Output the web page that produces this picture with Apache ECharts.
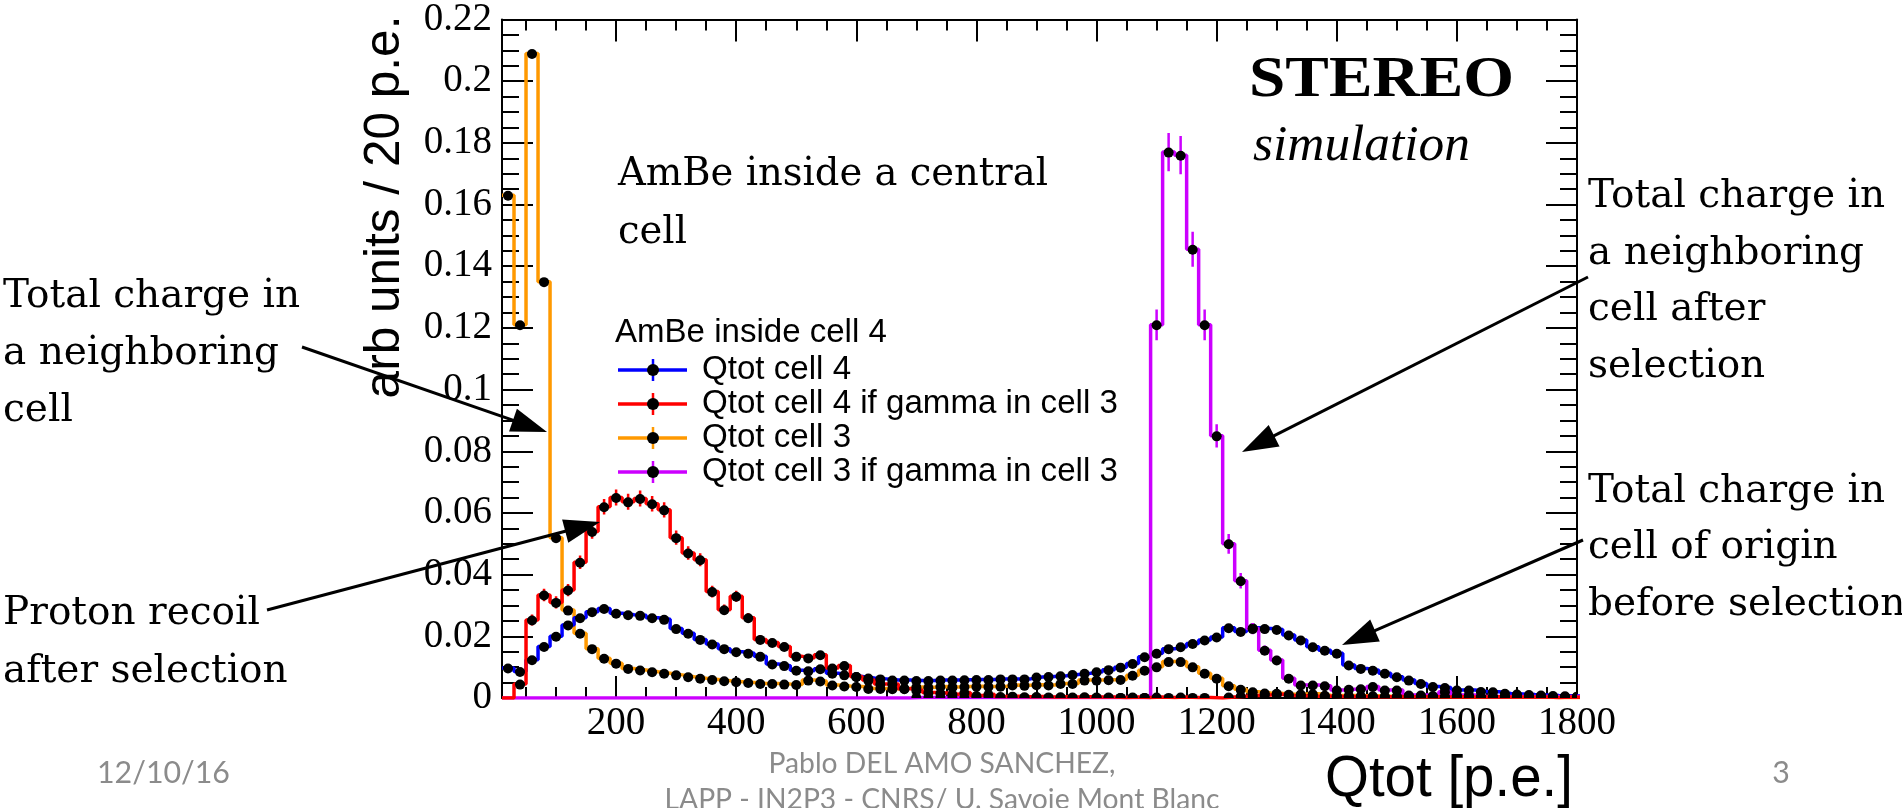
<!DOCTYPE html>
<html><head><meta charset="utf-8">
<script src="https://cdn.jsdelivr.net/npm/echarts@6/dist/echarts.min.js"></script>
<style>html,body{margin:0;padding:0;background:#fff}#c{width:1902px;height:808px}</style>
</head><body><div id="c"></div>
<script>
// ---------------- data ----------------
const binWidth = 20;
const xCenters = [20,40,60,80,100,120,140,160,180,200,220,240,260,280,300,320,340,360,380,400,
420,440,460,480,500,520,540,560,580,600,620,640,660,680,700,720,740,760,780,800,
820,840,860,880,900,920,940,960,980,1000,1020,1040,1060,1080,1100,1120,1140,1160,1180,1200,
1220,1240,1260,1280,1300,1320,1340,1360,1380,1400,1420,1440,1460,1480,1500,1520,1540,1560,1580,1600,
1620,1640,1660,1680,1700,1720,1740,1760,1780,1800];

const cell4 = [0.0097,0.0086,0.0124,0.0167,0.020,0.0237,0.026,0.028,0.029,0.0275,
0.027,0.0268,0.026,0.0255,0.0225,0.021,0.019,0.0175,0.016,0.015,
0.0145,0.0135,0.011,0.0105,0.009,0.0088,0.0095,0.008,0.0075,0.007,
0.0065,0.0062,0.0058,0.0058,0.0057,0.0057,0.0058,0.0058,0.0059,0.006,
0.006,0.0062,0.0062,0.0062,0.0068,0.007,0.0072,0.0076,0.008,0.0085,
0.0092,0.010,0.0112,0.0134,0.0145,0.016,0.0166,0.0177,0.0188,0.0198,
0.0228,0.0216,0.0228,0.0225,0.0222,0.0204,0.0188,0.0166,0.0155,0.0145,
0.0107,0.0096,0.009,0.008,0.0069,0.0058,0.0047,0.0037,0.0034,0.0026,
0.0026,0.0021,0.002,0.0015,0.0013,0.0011,0.001,0.0008,0.0007,0.0006];

const cell4Gamma = [0,0.0045,0.0253,0.0334,0.031,0.035,0.044,0.054,0.062,0.065,
0.0636,0.0647,0.063,0.061,0.052,0.047,0.0448,0.0345,0.0286,0.033,
0.026,0.019,0.018,0.0167,0.0135,0.013,0.014,0.0097,0.0105,0.007,
0.0058,0.0045,0.0045,0.003,0.0025,0.0018,0.0016,0.0012,0.0018,0.0008,
0.0012,0.0005,0.0006,0.0004,0.0005,0.0003,0.0004,0.0003,0.0004,0.0003,
0.0003,0.0002,0.0003,0.0002,0.0003,0.0002,0.0003,0.0002,0.0002,0,
0.0003,0.0006,0.0008,0.001,0.0012,0.0008,0.0007,0.0006,0.0006,0.0005,
0.0005,0.0005,0.0004,0.0004,0.0005,0.0004,0.0004,0.0004,0.0003,0.0004,
0.0003,0.0003,0.0004,0.0003,0.0003,0.0003,0.0003,0.0002,0.0003,0.0002];

const cell3 = [0.163,0.121,0.209,0.135,0.052,0.0285,0.021,0.016,0.0129,0.0113,
0.0096,0.0091,0.0085,0.008,0.0075,0.0069,0.0064,0.006,0.0056,0.0053,
0.005,0.0047,0.0047,0.0045,0.0044,0.0058,0.0055,0.0042,0.0039,0.0037,
0.0031,0.0031,0.003,0.0032,0.0036,0.0035,0.0037,0.0036,0.0037,0.0038,
0.0037,0.0038,0.0042,0.0041,0.0043,0.0042,0.0047,0.0047,0.0058,0.0058,
0.0059,0.006,0.0074,0.009,0.0101,0.0118,0.0118,0.0101,0.008,0.0064,
0.004,0.0028,0.002,0.0016,0.0015,0.0012,0.0013,0.0014,0.0009,0.0008,
0.0008,0.0007,0.0007,0.0006,0.0006,0.0006,0.0005,0.0005,0.0005,0.0005,
0.0004,0.0004,0.0004,0.0003,0.0003,0.0003,0.0003,0.0002,0.0002,0.0002];

const cell3Gamma = [0,0,0,0,0,0,0,0,0,0,
0,0,0,0,0,0,0,0,0,0,
0,0,0,0,0,0,0,0,0,0,
0,0,0,0,0.0002,0.0002,0.0002,0.0002,0.0002,0.0002,
0.0002,0.0002,0.0002,0.0002,0.0002,0.0002,0.0002,0.0002,0.0002,0.0002,
0.0002,0.0002,0.0002,0.0002,0.121,0.177,0.176,0.1455,0.121,0.085,
0.050,0.038,0.0225,0.0155,0.0123,0.0064,0.0042,0.0042,0.004,0.0026,
0.0028,0.003,0.0037,0.0026,0.0026,0.001,0.001,0.0008,0.002,0.001,
0.001,0.0005,0.0005,0.0005,0.0005,0.0005,0.0005,0.0005,0.0005,0.0005];

const cell4GammaErr = [0,0.001,0.0018,0.002,0.002,0.002,0.0022,0.0024,0.0025,0.0026,
0.0026,0.0026,0.0025,0.0025,0.0023,0.0022,0.0021,0.0019,0.0017,0.0018,
0.0016,0.0014,0.0013,0.0013,0.0012,0.0011,0.0012,0.001,0.001,0.0008];

const cell3GammaErr = [];
cell3GammaErr[54] = 0.005; cell3GammaErr[55] = 0.0062; cell3GammaErr[56] = 0.0062;
cell3GammaErr[57] = 0.0057; cell3GammaErr[58] = 0.005; cell3GammaErr[59] = 0.0038;
cell3GammaErr[60] = 0.0032; cell3GammaErr[61] = 0.0025; cell3GammaErr[62] = 0.0018;
cell3GammaErr[63] = 0.0015; cell3GammaErr[64] = 0.0014;

const seriesNames = ['Qtot cell 4','Qtot cell 4 if gamma in cell 3','Qtot cell 3','Qtot cell 3 if gamma in cell 3'];
const seriesColors = ['#0000ff','#ff0000','#ff9900','#cc00ff'];
const legendHeader = 'AmBe inside cell 4';

// ---------------- helpers ----------------
const mctx = document.createElement('canvas').getContext('2d');
function measure(text, family, size, weight, style) {
  mctx.font = (style||'normal') + ' ' + (weight||'normal') + ' ' + size + 'px "' + family + '"';
  return mctx.measureText(text).width;
}
function fitSize(text, family, width, weight, style) {
  return 100 * width / measure(text, family, 100, weight, style);
}
function txt(text, x, y, o) {
  return {type:'text', x:x, y:y, rotation:o.rot||0, scaleX:o.sx||1, z:100,
    style:{text:text, fontFamily:o.family, fontSize:o.size, fontWeight:o.weight||'normal',
      fontStyle:o.style||'normal', fill:o.color||'#000',
      align:o.align||'left', verticalAlign:'middle', textAlign:o.align||'left', textVerticalAlign:'middle'}};
}
function arrow(x1,y1,x2,y2){
  const dx=x2-x1, dy=y2-y1, L=Math.hypot(dx,dy), ux=dx/L, uy=dy/L, nx=-uy, ny=ux;
  const hl=36, hw=12, bx=x2-ux*hl, by=y2-uy*hl;
  return [
    {type:'line', z:100, shape:{x1:x1,y1:y1,x2:bx+ux*2,y2:by+uy*2}, style:{stroke:'#000', lineWidth:3}},
    {type:'polygon', z:100, shape:{points:[[x2,y2],[bx+nx*hw,by+ny*hw],[bx-nx*hw,by-ny*hw]]}, style:{fill:'#000'}}
  ];
}
function stepData(vals){
  const d = [];
  for (let i=0;i<vals.length;i++) d.push([xCenters[i]-binWidth/2, vals[i]]);
  d.push([xCenters[vals.length-1]+binWidth/2, vals[vals.length-1]]);
  return d;
}

const allVals = [cell4, cell4Gamma, cell3, cell3Gamma];
const allErr = [null, cell4GammaErr, null, cell3GammaErr];
const zOrder = [3, 5, 2, 4];

const series = [];
allVals.forEach((vals, s) => {
  series.push({type:'line', name:seriesNames[s], step:'end', data:stepData(vals), symbol:'none',
    lineStyle:{color:seriesColors[s], width:3.5}, itemStyle:{color:seriesColors[s]},
    z:zOrder[s], silent:true, animation:false, clip:true});
});
allVals.forEach((vals, s) => {
  const color = seriesColors[s];
  const err = allErr[s];
  const data = [];
  vals.forEach((v,i) => { if (v > 0) data.push([xCenters[i], v, err && err[i] ? err[i] : 0]); });
  series.push({type:'custom', data:data, z:6, silent:true, animation:false, clip:true,
    renderItem:function(params, api){
      const x = api.value(0), v = api.value(1), e = api.value(2);
      const c = api.coord([x, v]);
      const l = api.coord([x - binWidth/2, v]);
      const r = api.coord([x + binWidth/2, v]);
      const ch = [];
      if (e > 0) {
        const t = api.coord([x, v + e]), b = api.coord([x, v - e]);
        ch.push({type:'line', shape:{x1:c[0],y1:t[1],x2:c[0],y2:b[1]}, style:{stroke:color, lineWidth:2.5}});
      }
      ch.push({type:'line', shape:{x1:l[0]+1.5,y1:c[1],x2:r[0]-1.5,y2:c[1]}, style:{stroke:'#000', lineWidth:2.5}});
      ch.push({type:'circle', shape:{cx:c[0],cy:c[1]+0.5,r:5}, style:{fill:'#000'}});
      return {type:'group', children:ch};
    }});
});

// ---------------- graphic ----------------
const g = [];
const serif = 'DejaVu Serif', ser = 39;
[['Total charge in',297],['a neighboring',354],['cell',411],['Proton recoil',614],['after selection',672]]
  .forEach(a => g.push(txt(a[0], 3, a[1], {family:serif, size:ser})));
[['Total charge in',197],['a neighboring',254],['cell after',310],['selection',367],
 ['Total charge in',492],['cell of origin',548],['before selection',605]]
  .forEach(a => g.push(txt(a[0], 1588, a[1], {family:serif, size:ser})));
g.push(txt('AmBe inside a central', 618, 175, {family:serif, size:38.5}));
g.push(txt('cell', 618, 233, {family:serif, size:38.5}));

const stSize = 56;
g.push(txt('STEREO', 1249, 82, {family:'Liberation Serif', size:stSize, weight:'bold',
  sx: 265/measure('STEREO','Liberation Serif',stSize,'bold')}));
const simSize = 50;
g.push(txt('simulation', 1253, 147, {family:'Liberation Serif', size:simSize, style:'italic',
  sx: 217/measure('simulation','Liberation Serif',simSize,'normal','italic')}));

// legend
const lgSize = fitSize(seriesNames[1], 'Liberation Sans', 416);
g.push(txt(legendHeader, 615, 333, {family:'Liberation Sans', size:fitSize(legendHeader,'Liberation Sans',272)}));
seriesNames.forEach((n, i) => {
  const y = 370 + 34*i;
  g.push({type:'line', z:100, shape:{x1:618,y1:y,x2:687,y2:y}, style:{stroke:seriesColors[i], lineWidth:3.5}});
  g.push({type:'line', z:100, shape:{x1:653,y1:y-11,x2:653,y2:y+11}, style:{stroke:seriesColors[i], lineWidth:2.5}});
  g.push({type:'circle', z:101, shape:{cx:653,cy:y,r:6}, style:{fill:'#000'}});
  g.push(txt(n, 702, y, {family:'Liberation Sans', size:lgSize}));
});

// axis titles
const yt = 'arb units / 20 p.e.';
g.push(txt(yt, 385, 207, {family:'Liberation Sans', size:fitSize(yt,'Liberation Sans',383), align:'center', rot:Math.PI/2}));
const xt = 'Qtot [p.e.]';
g.push(txt(xt, 1325, 780, {family:'Liberation Sans', size:fitSize(xt,'Liberation Sans',248)}));

// footer
const gray = '#8b8b8b';
const f1 = 'Pablo DEL AMO SANCHEZ,', f2 = 'LAPP - IN2P3 - CNRS/ U. Savoie Mont Blanc';
const fs = fitSize(f2, 'Lato', 555);
g.push(txt(f1, 942, 764, {family:'Lato', size:fs, align:'center', color:gray}));
g.push(txt(f2, 942, 800, {family:'Lato', size:fs, align:'center', color:gray}));
const ds = fitSize('12/10/16', 'Lato', 133);
g.push(txt('12/10/16', 97, 773, {family:'Lato', size:ds, color:gray}));
g.push(txt('3', 1781, 773, {family:'Lato', size:ds, align:'center', color:gray}));

// arrows
[[302,347,547,432],[267,610,600,522],[1588,277,1242,452],[1583,540,1342,645]]
  .forEach(a => arrow(a[0],a[1],a[2],a[3]).forEach(e => g.push(e)));

// ---------------- axes ----------------
const black = {color:'#000', width:2};
function xAx(pos, major) {
  return {type:'value', min:10, max:1800, position:pos, splitNumber: major ? 9 : 36,
    axisLine:{show:major, onZero:false, lineStyle:black},
    axisTick:{show:true, inside:true, length: major ? 22 : 11, lineStyle:black},
    axisLabel:{show: major && pos==='bottom', showMinLabel:false, margin:6, color:'#000',
      fontFamily:'Liberation Serif', fontSize:39, formatter: v => String(Math.round(v))},
    splitLine:{show:false}};
}
function yAx(pos) {
  return {type:'value', min:0, max:0.22, interval:0.02, position:pos,
    axisLine:{show:true, onZero:false, lineStyle:black},
    axisTick:{show:true, inside:true, length:31, lineStyle:black},
    minorTick:{show:true, splitNumber:4, length:17, lineStyle:black},
    axisLabel:{show: pos==='left', margin:10, color:'#000', fontFamily:'Liberation Serif', fontSize:39,
      formatter: v => String(+v.toFixed(2))},
    splitLine:{show:false}, minorSplitLine:{show:false}};
}

const chart = echarts.init(document.getElementById('c'), null, {renderer:'canvas'});
chart.setOption({
  animation:false,
  backgroundColor:'#fff',
  grid:{left:502, top:18, width:1075, height:680, containLabel:false},
  xAxis:[xAx('bottom',true), xAx('bottom',false), xAx('top',true), xAx('top',false)],
  yAxis:[yAx('left'), yAx('right')],
  series: series,
  graphic: g
});
</script></body></html>
